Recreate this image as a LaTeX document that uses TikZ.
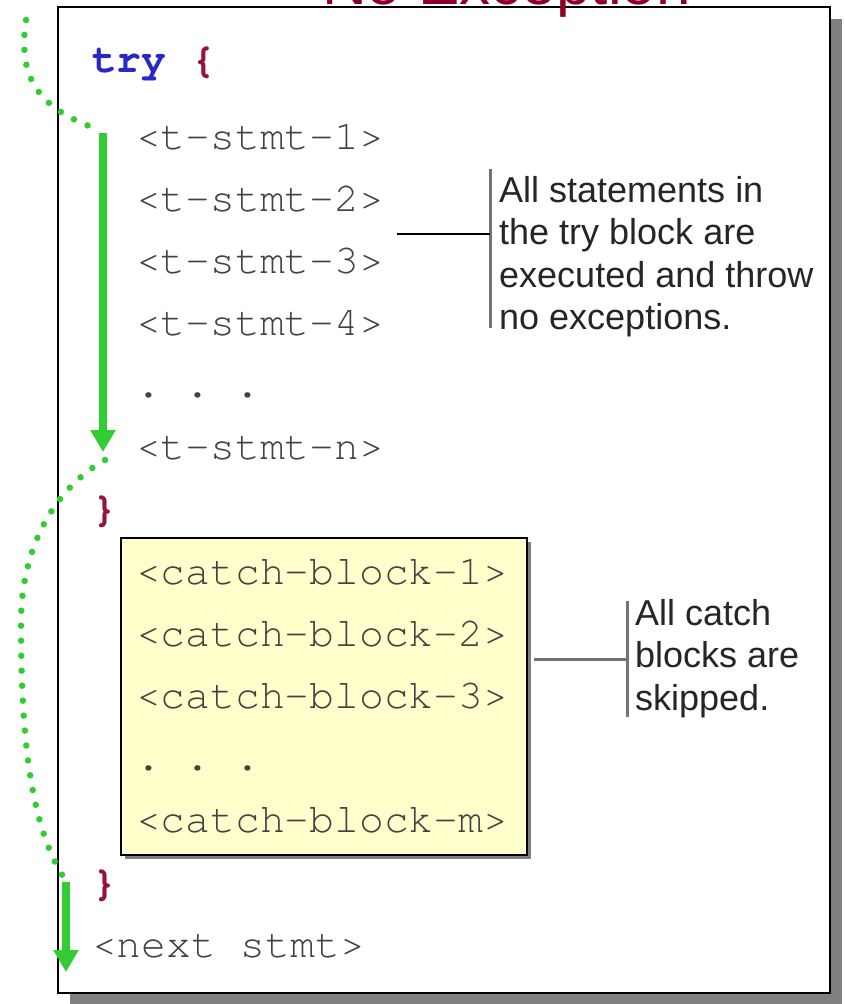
\documentclass[tikz,border=0pt]{standalone}
\usepackage{fontspec}
\setmainfont{Liberation Sans}
\setmonofont{texgyrecursor}[Extension=.otf, UprightFont=*-regular,
  BoldFont=*-bold, ItalicFont=*-italic, BoldItalicFont=*-bolditalic]
\usetikzlibrary{arrows.meta}
\definecolor{flow}{RGB}{50,205,50}
\definecolor{codegray}{RGB}{66,66,66}
\definecolor{kwblue}{RGB}{40,40,200}
\definecolor{brace}{RGB}{150,20,60}
\definecolor{titlered}{RGB}{140,0,40}
\definecolor{catchfill}{RGB}{255,255,204}
\tikzset{
  code/.style={anchor=base west, inner sep=0pt, text=codegray,
    font=\fontsize{41.3}{62}\selectfont\ttfamily},
  bracetext/.style={anchor=base west, inner sep=0pt, text=brace,
    font=\fontsize{41.3}{62}\selectfont\ttfamily\bfseries},
  note/.style={anchor=north west, inner sep=0pt, align=left, text=black!85,
    font=\fontsize{36}{42.5}\selectfont},
  flowarrow/.style={draw=flow, line width=8pt,
    -{Triangle[width=24pt,length=22pt]}},
  flowdots/.style={draw=flow, line width=6.5pt, line cap=round,
    dash pattern=on 0pt off 15pt},
  shadowbox/.style={fill=black!50, draw=none},
  barline/.style={draw=black!55, line width=3pt},
}
\begin{document}
\begin{tikzpicture}[x=1pt,y=-1pt]
\useasboundingbox (0,0) rectangle (844,1004);
\clip (0,0) rectangle (844,1004);

% outer panel with drop shadow
\fill[shadowbox] (70,19) rectangle (842,1006);
\draw[fill=white, draw=black, line width=2.5pt] (58,7) rectangle (830,993);

% heading
\node[anchor=base west, inner sep=0pt, text=titlered,
  font=\fontsize{62}{70}\selectfont] (title) at (322,4) {No Exception};

% try block
\node[anchor=base west, inner sep=0pt,
  font=\fontsize{41.3}{62}\selectfont\ttfamily\bfseries] (try) at (92,72)
  {\textcolor{kwblue}{try} \textcolor{brace}{\{}};
\node[code] (t1) at (136,149) {<t-stmt-1>};
\node[code] (t2) at (136,211) {<t-stmt-2>};
\node[code] (t3) at (136,273) {<t-stmt-3>};
\node[code] (t4) at (136,335) {<t-stmt-4>};
\node[code] (tdots) at (136,397) {. . .};
\node[code] (tn) at (136,459) {<t-stmt-n>};
\node[bracetext] (close1) at (92,521) {\}};

% catch blocks
\fill[shadowbox] (125,542) rectangle (531,859);
\draw[fill=catchfill, draw=black, line width=2pt] (121,538) rectangle (527,855);
\node[code] (c1) at (136,584) {<catch-block-1>};
\node[code] (c2) at (136,646) {<catch-block-2>};
\node[code] (c3) at (136,708) {<catch-block-3>};
\node[code] (cdots) at (136,770) {. . .};
\node[code] (cm) at (136,832) {<catch-block-m>};
\node[bracetext] (close2) at (92,895) {\}};
\node[code] (next) at (92,957) {<next stmt>};

% annotations
\coordinate (tryTop) at (490,169);
\coordinate (tryBot) at (490,328);
\coordinate (tryMid) at (490,234);
\coordinate (tryLead) at (397,234);
\draw[barline] (tryTop) -- (tryBot);
\draw[black, line width=2pt] (tryLead) -- (tryMid);
\node[note] (tryNote) at (499,176)
  {All statements in\\the try block are\\executed and throw\\no exceptions.};

\coordinate (catchTop) at (627,601);
\coordinate (catchBot) at (627,717);
\coordinate (catchMid) at (627,659);
\coordinate (catchLead) at (534,659);
\draw[barline] (catchTop) -- (catchBot);
\draw[barline] (catchLead) -- (catchMid);
\node[note] (catchNote) at (635,599) {All catch\\blocks are\\skipped.};

% flow of control
\coordinate (enter) at (26,20);
\coordinate (tStart) at (103,133);
\coordinate (tEnd) at (103,452);
\coordinate (nStart) at (66,882);
\coordinate (nEnd) at (66,972);
\draw[flowdots] (enter) .. controls (18,75) and (35,108) .. (100,130);
\draw[flowarrow] (tStart) -- (tEnd);
\draw[flowdots] (105,460) .. controls (60,485) and (22,540) .. (21,620)
  .. controls (21,720) and (27,820) .. (64,878);
\draw[flowarrow] (nStart) -- (nEnd);
\end{tikzpicture}
\end{document}
